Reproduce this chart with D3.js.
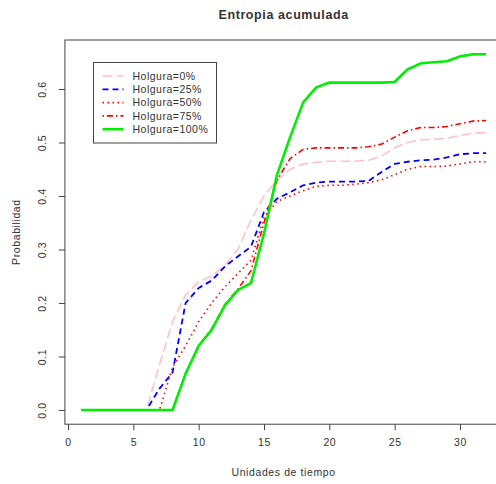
<!DOCTYPE html>
<html>
<head>
<meta charset="utf-8">
<script src="https://cdn.jsdelivr.net/npm/d3@7"></script>
<style>
	body { margin: 0; background: #fff; }
	text { font-family: 'Liberation Sans', Arial, sans-serif; fill: #333; }
</style>
</head>
<body>
<div id="chart"></div>
<script>
// datos
let tiempo		= [1, 2, 3, 4, 5, 6, 7, 8, 9, 10, 11, 12, 13, 14, 15, 16, 17, 18, 19, 20, 21, 22, 23, 24, 25, 26, 27, 28, 29, 30, 31, 32];
let holgura0	= [0, 0, 0, 0, 0, 0, 0.085, 0.165, 0.215, 0.24, 0.25, 0.27, 0.3, 0.355, 0.4, 0.43, 0.45, 0.46, 0.463, 0.465, 0.465, 0.465, 0.467, 0.475, 0.49, 0.5, 0.505, 0.506, 0.508, 0.513, 0.518, 0.518];
let holgura25	= [0, 0, 0, 0, 0, 0, 0.04, 0.07, 0.2, 0.228, 0.242, 0.268, 0.287, 0.305, 0.37, 0.395, 0.407, 0.42, 0.425, 0.427, 0.427, 0.427, 0.428, 0.445, 0.46, 0.464, 0.467, 0.468, 0.472, 0.478, 0.48, 0.48];
let holgura50	= [0, 0, 0, 0, 0, 0, 0, 0.08, 0.12, 0.165, 0.2, 0.23, 0.255, 0.28, 0.36, 0.39, 0.4, 0.41, 0.418, 0.42, 0.42, 0.422, 0.425, 0.43, 0.44, 0.45, 0.455, 0.455, 0.456, 0.46, 0.464, 0.464];
let holgura75	= [0, 0, 0, 0, 0, 0, 0, 0, 0.068, 0.12, 0.152, 0.197, 0.226, 0.26, 0.35, 0.43, 0.47, 0.487, 0.49, 0.49, 0.49, 0.49, 0.492, 0.497, 0.51, 0.522, 0.528, 0.528, 0.53, 0.535, 0.54, 0.541];
let holgura100	= [0, 0, 0, 0, 0, 0, 0, 0, 0.068, 0.12, 0.15, 0.195, 0.224, 0.237, 0.33, 0.44, 0.51, 0.575, 0.603, 0.612, 0.612, 0.612, 0.612, 0.612, 0.613, 0.637, 0.648, 0.65, 0.652, 0.661, 0.665, 0.665];

let nombres		= ['Holgura=0%', 'Holgura=25%', 'Holgura=50%', 'Holgura=75%', 'Holgura=100%'];
let xTicks		= [0, 5, 10, 15, 20, 25, 30];
let yTicks		= [0.0, 0.1, 0.2, 0.3, 0.4, 0.5, 0.6];

let series = [holgura0, holgura25, holgura50, holgura75, holgura100];
let estilos = [
	{ color: '#ffc0cb', dash: '10,4', width: 1.6 },
	{ color: '#0000ff', dash: '6,4', width: 1.8 },
	{ color: '#ff0000', dash: '1.5,3.5', width: 1.6 },
	{ color: '#ff0000', dash: '1.5,3,6,3', width: 1.6 },
	{ color: '#00ee00', dash: null, width: 2.6 }
];

let width	= 496;
let height	= 484;

// region del grafico (rango con extension del 4%)
let x = d3.scaleLinear().domain([1 - 0.04 * 31, 32 + 0.04 * 31]).range([64.9, 502.3]);
let y = d3.scaleLinear().domain([-0.0266, 0.6916]).range([424.2, 40]);

let svg = d3.select('#chart').append('svg')
		.attr('width', width)
		.attr('height', height);

svg.append('rect').attr('width', width).attr('height', height).attr('fill', '#fff');

// caja
svg.append('rect')
	.attr('x', x.range()[0])
	.attr('y', y.range()[1])
	.attr('width', x.range()[1] - x.range()[0])
	.attr('height', y.range()[0] - y.range()[1])
	.attr('fill', 'none')
	.attr('stroke', '#444')
	.attr('stroke-width', 1);

// ejes
let gx = svg.append('g')
	.attr('transform', 'translate(0,' + y.range()[0] + ')')
	.call(d3.axisBottom(x).tickValues(xTicks).tickFormat(d3.format('d')).tickSize(6).tickPadding(8));

let gy = svg.append('g')
	.attr('transform', 'translate(' + x.range()[0] + ',0)')
	.call(d3.axisLeft(y).tickValues(yTicks).tickFormat(d3.format('.1f')).tickSize(6));

[gx, gy].forEach((g) => {
	g.select('.domain').remove();
	g.selectAll('line').attr('stroke', '#444');
	g.selectAll('text').attr('fill', '#444').style('font-size', '10.5px').style('letter-spacing', '0.6px');
});

// etiquetas del eje y en vertical
gy.selectAll('.tick text')
	.attr('x', null).attr('dy', null)
	.attr('text-anchor', 'middle')
	.attr('transform', 'translate(-19,0) rotate(-90)');

let clip = svg.append('clipPath').attr('id', 'clip')
	.append('rect')
	.attr('x', x.range()[0]).attr('y', y.range()[1])
	.attr('width', x.range()[1] - x.range()[0])
	.attr('height', y.range()[0] - y.range()[1]);

let line = d3.line()
	.x((d, i) => x(tiempo[i]))
	.y((d) => y(d));

svg.append('g').attr('clip-path', 'url(#clip)')
	.selectAll('path')
	.data(series)
	.enter().append('path')
		.attr('d', (d) => line(d))
		.attr('fill', 'none')
		.attr('stroke', (d, i) => estilos[i].color)
		.attr('stroke-width', (d, i) => estilos[i].width)
		.attr('stroke-dasharray', (d, i) => estilos[i].dash)
		.attr('stroke-linejoin', 'round');

// titulos
let centro = (x.range()[0] + x.range()[1]) / 2;

svg.append('text')
	.attr('x', centro).attr('y', 19)
	.attr('text-anchor', 'middle')
	.style('font-size', '12.5px').style('font-weight', 'bold').style('letter-spacing', '0.6px')
	.attr('fill', '#111')
	.text('Entropia acumulada');

svg.append('text')
	.attr('x', centro).attr('y', 476)
	.attr('text-anchor', 'middle')
	.style('font-size', '10.5px').style('letter-spacing', '0.6px')
	.text('Unidades de tiempo');

svg.append('text')
	.attr('transform', 'translate(20,' + ((y.range()[0] + y.range()[1]) / 2) + ') rotate(-90)')
	.attr('text-anchor', 'middle')
	.style('font-size', '10.5px').style('letter-spacing', '0.6px')
	.text('Probabilidad');

// leyenda
let leyenda = svg.append('g').attr('transform', 'translate(93.5,62.5)');

leyenda.append('rect')
	.attr('width', 123).attr('height', 80.5)
	.attr('fill', '#fff').attr('stroke', '#444');

let filas = leyenda.selectAll('.fila')
	.data(nombres)
	.enter().append('g')
		.attr('class', 'fila')
		.attr('transform', (d, i) => 'translate(0,' + (13.5 + i * 13.3) + ')');

filas.append('line')
	.attr('x1', 9).attr('x2', 30)
	.attr('stroke', (d, i) => estilos[i].color)
	.attr('stroke-width', (d, i) => estilos[i].width)
	.attr('stroke-dasharray', (d, i) => estilos[i].dash);

filas.append('text')
	.attr('x', 39).attr('dy', '0.35em')
	.style('font-size', '10.5px').style('letter-spacing', '0.5px')
	.text((d) => d);
</script>
</body>
</html>
